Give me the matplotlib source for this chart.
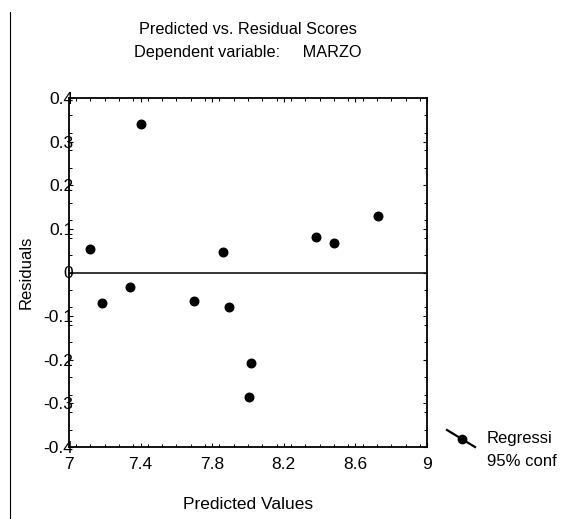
import numpy as np
import matplotlib
matplotlib.use('Agg')
import matplotlib.pyplot as plt
from matplotlib.lines import Line2D
from matplotlib.ticker import MultipleLocator

plt.rcParams['font.family'] = ['Liberation Sans', 'DejaVu Sans']

# values
predicted = [7.117, 7.186, 7.34, 7.405, 7.70, 7.862, 7.896, 8.017, 8.008, 8.38, 8.48, 8.726]
residuals = [0.054, -0.071, -0.034, 0.341, -0.065, 0.047, -0.078, -0.207, -0.285, 0.081, 0.067, 0.130]
x_ticks = [7, 7.4, 7.8, 8.2, 8.6, 9]
y_ticks = [-0.4, -0.3, -0.2, -0.1, 0, 0.1, 0.2, 0.3, 0.4]
y_tick_labels = ['-0.4', '-0.3', '-0.2', '-0.1', '0', '0.1', '0.2', '0.3', '0.4']
legend_lines = ['Regressi', '95% conf']

W, H = 562, 519
fig = plt.figure(figsize=(W / 100, H / 100), dpi=100)
ax = fig.add_axes([69 / W, 1 - 447 / H, (427 - 69) / W, (447 - 98) / H])

ax.scatter(predicted, residuals, s=38, color='black', marker='o', zorder=3)
ax.axhline(0, color='black', lw=1.1)

ax.set_xlim(7, 9)
ax.set_ylim(-0.4, 0.4)
ax.set_xticks(x_ticks)
ax.set_xticklabels([f'{v:g}' for v in x_ticks])
ax.set_yticks(y_ticks)
ax.set_yticklabels(y_tick_labels)
ax.xaxis.set_minor_locator(MultipleLocator(0.08))
ax.yaxis.set_minor_locator(MultipleLocator(0.04))
ax.tick_params(which='major', direction='in', top=True, right=True, length=3, width=0.8)
ax.tick_params(which='minor', direction='in', top=True, right=True, length=2, width=0.7)
ax.tick_params(axis='y', which='major', pad=-3, labelsize=12.5)
ax.tick_params(axis='x', which='major', pad=7, labelsize=12.5)
for s in ax.spines.values():
    s.set_linewidth(1.3)

ax.set_xlabel('Predicted Values', fontsize=12.5, labelpad=18)
ax.set_ylabel('Residuals', fontsize=12, labelpad=7)

fig.text(248 / W, 1 - 29 / H, 'Predicted vs. Residual Scores', ha='center', va='center', fontsize=11.7)
fig.text(248 / W, 1 - 53 / H, 'Dependent variable:     MARZO', ha='center', va='center', fontsize=11.7)

# legend glyph (slanted line with dot) outside the plot
fig.add_artist(Line2D([447 / W, 475 / W], [1 - 430 / H, 1 - 447 / H], color='black', lw=1.6,
                      transform=fig.transFigure))
fig.add_artist(Line2D([462 / W], [1 - 439 / H], marker='o', ms=6, color='black',
                      transform=fig.transFigure))
fig.text(487 / W, 1 - 439 / H, legend_lines[0], ha='left', va='center', fontsize=12)
fig.text(487 / W, 1 - 461 / H, legend_lines[1], ha='left', va='center', fontsize=12)

# scan border on the left
fig.add_artist(Line2D([10 / W, 10 / W], [0, 1 - 12 / H], color='black', lw=0.8,
                      transform=fig.transFigure))

fig.savefig('out.png', dpi=100)
